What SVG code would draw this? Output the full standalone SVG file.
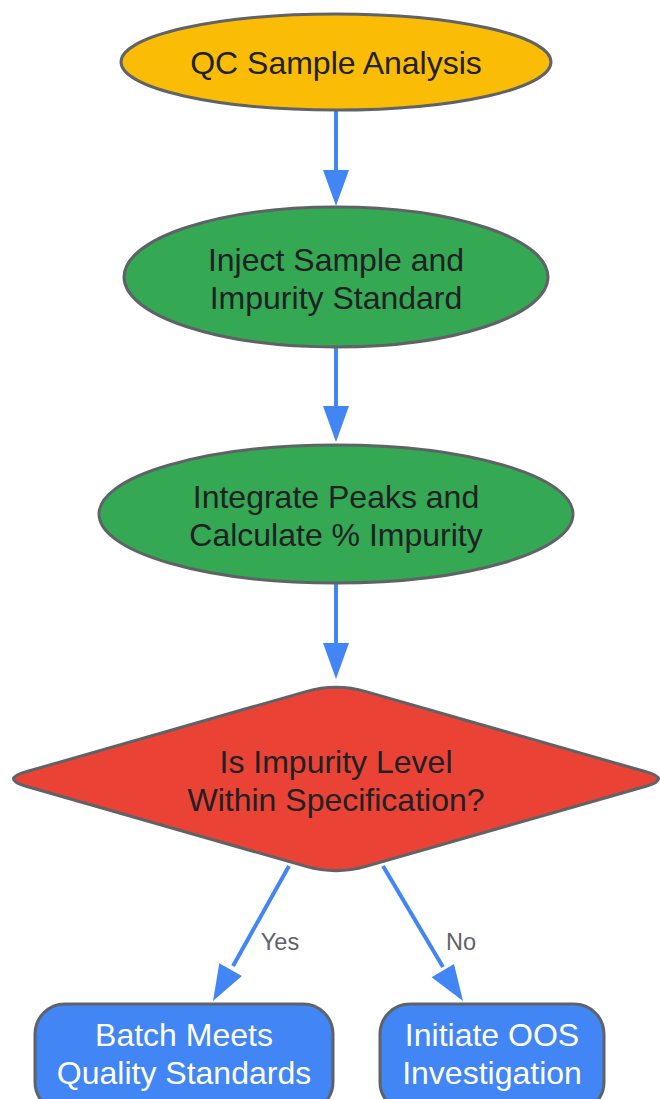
<svg xmlns="http://www.w3.org/2000/svg" width="660" height="1099" viewBox="0 0 660 1099">
<defs>
<style>
.node{stroke:#5f6368;stroke-width:3}
.t{font-family:"Liberation Sans",Arial,sans-serif;font-size:32px;fill:#202124;text-anchor:middle}
.tw{fill:#ffffff}
.edge{stroke:#4285F4;stroke-width:4;fill:none}
.head{fill:#4285F4;stroke:none}
.lbl{font-family:"Liberation Sans",Arial,sans-serif;font-size:23.5px;fill:#5f6368;text-anchor:middle}
</style>
</defs>
<rect width="660" height="1099" fill="#ffffff"/>
<g id="connectors">
<line class="edge" x1="336" y1="110" x2="336" y2="172"/>
<polygon class="head" points="323,170 349,170 336,206"/>
<line class="edge" x1="336" y1="347" x2="336" y2="408"/>
<polygon class="head" points="323,406 349,406 336,442"/>
<line class="edge" x1="336" y1="583" x2="336" y2="645"/>
<polygon class="head" points="323,643 349,643 336,679"/>
<line class="edge" x1="289" y1="866" x2="233" y2="966"/>
<polygon class="head" points="241.9,976 219.3,963.2 213,1001"/>
<text class="lbl" x="280" y="950">Yes</text>
<line class="edge" x1="383" y1="866" x2="443" y2="967"/>
<polygon class="head" points="431.6,977.3 454,964 463,1001"/>
<text class="lbl" x="461" y="950">No</text>
</g>
<g id="start">
<ellipse class="node" cx="336" cy="62" rx="215" ry="48" fill="#FBBC05"/>
<text class="t" x="336" y="74">QC Sample Analysis</text>
</g>
<g id="inject">
<ellipse class="node" cx="336" cy="277" rx="212" ry="70" fill="#34A853"/>
<text class="t" x="336" y="271">Inject Sample and</text>
<text class="t" x="336" y="309">Impurity Standard</text>
</g>
<g id="integrate">
<ellipse class="node" cx="336" cy="514" rx="237" ry="69" fill="#34A853"/>
<text class="t" x="336" y="508">Integrate Peaks and</text>
<text class="t" x="336" y="546">Calculate % Impurity</text>
</g>
<g id="decision">
<path class="node" fill="#EA4335" d="M 306,691.6 Q 336,683 366,691.6 L 646,771.8 Q 671,779 646,786.2 L 366,866.4 Q 336,875 306,866.4 L 26,786.2 Q 1,779 26,771.8 Z"/>
<text class="t" x="336" y="773">Is Impurity Level</text>
<text class="t" x="336" y="811">Within Specification?</text>
</g>
<g id="pass">
<rect class="node" x="35" y="1004" width="298" height="108" rx="30" ry="30" fill="#4285F4"/>
<text class="t tw" x="184" y="1046">Batch Meets</text>
<text class="t tw" x="184" y="1084">Quality Standards</text>
</g>
<g id="oos">
<rect class="node" x="380" y="1004" width="224" height="108" rx="30" ry="30" fill="#4285F4"/>
<text class="t tw" x="492" y="1046">Initiate OOS</text>
<text class="t tw" x="492" y="1084">Investigation</text>
</g>
</svg>
